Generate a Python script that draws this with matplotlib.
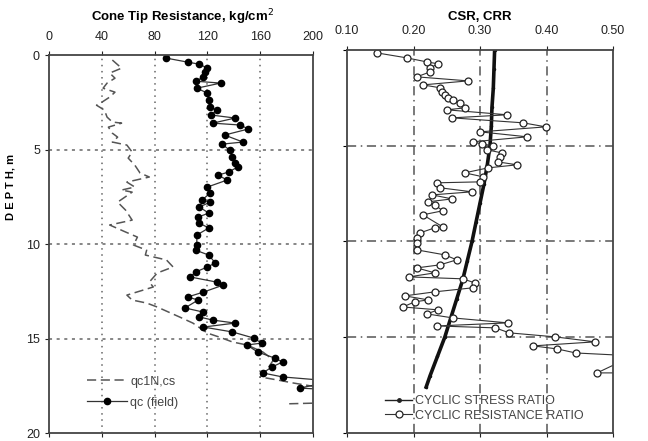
import matplotlib.pyplot as plt
from matplotlib.lines import Line2D

plt.rcParams['font.family'] = ['Liberation Sans', 'DejaVu Sans']

# qc (field) profile: depth (m), tip resistance (kg/cm2)
qc_depth = [0.16, 0.37, 0.48, 0.69, 0.90, 1.16, 1.38, 1.48, 1.75, 2.01, 2.38, 2.75,
            2.91, 3.17, 3.33, 3.60, 3.70, 3.91, 4.23, 4.60, 4.71, 5.03, 5.40, 5.71,
            5.92, 6.19, 6.35, 6.61, 6.98, 7.30, 7.67, 7.78, 8.04, 8.36, 8.57, 8.89,
            9.15, 9.52, 10.05, 10.32, 10.58, 11.00, 11.21, 11.48, 11.74, 12.01, 12.17,
            12.54, 12.80, 12.96, 13.38, 13.60, 13.86, 14.02, 14.18, 14.39, 14.65,
            14.97, 15.24, 15.34, 15.71, 16.03, 16.24, 16.50, 16.82, 17.03, 17.25,
            17.62, 17.75]
qc_field = [89, 105, 114, 120, 118, 117, 111, 130, 112, 120, 121, 122,
            127, 123, 141, 124, 145, 151, 133, 147, 131, 137, 139, 141,
            143, 136, 128, 135, 120, 122, 116, 122, 114, 121, 113, 114,
            121, 112, 112, 111, 121, 126, 120, 111, 107, 127, 132,
            117, 105, 113, 103, 117, 114, 124, 141, 117, 139,
            155, 161, 150, 158, 171, 177, 169, 162, 177, 215,
            190, 225]

# qc1N,cs profile
q1_depth = [0.26, 0.69, 0.95, 1.22, 1.48, 1.75, 1.96, 2.22, 2.54, 2.65, 2.91, 3.28,
            3.54, 3.60, 3.81, 4.13, 4.34, 4.60, 4.76, 5.13, 5.45, 5.82, 6.24, 6.45,
            6.72, 6.98, 7.14, 7.25, 7.78, 8.20, 8.73, 8.99, 9.36, 9.63, 10.05, 10.32,
            10.58, 10.84, 11.21, 11.53, 12.01, 12.27, 12.70, 12.96, 13.12, 13.33,
            13.86, 14.18, 14.71, 14.92, 15.18, 15.34, 15.71, 16.13, 16.66, 17.03,
            17.19, 17.35, 17.56]
q1_value = [48, 55, 46, 50, 44, 41, 50, 46, 39, 36, 42, 44,
            48, 55, 45, 48, 52, 48, 59, 63, 60, 65, 69, 76,
            59, 65, 55, 63, 52, 58, 63, 46, 58, 67, 64, 74,
            73, 89, 94, 82, 76, 79, 59, 63, 74, 82,
            99, 109, 120, 129, 139, 150, 162, 170, 165, 160,
            173, 185, 203]
q1_tail_depth = [18.45, 18.40]
q1_tail_value = [182, 210]

# cyclic resistance ratio
crr_depth = [0.16, 0.42, 0.63, 0.73, 0.94, 1.15, 1.41, 1.62, 1.83, 1.98, 2.19, 2.35,
             2.51, 2.61, 2.77, 3.03, 3.13, 3.39, 3.55, 3.81, 4.02, 4.28, 4.54, 4.80,
             4.91, 5.01, 5.22, 5.38, 5.59, 5.85, 6.00, 6.16, 6.42, 6.63, 6.89, 6.94,
             7.20, 7.41, 7.57, 7.78, 7.93, 8.09, 8.40, 8.61, 9.24, 9.29, 9.55, 9.81,
             10.07, 10.44, 10.70, 10.96, 11.22, 11.38, 11.64, 11.85, 11.95, 12.16,
             12.42, 12.63, 12.84, 13.05, 13.15, 13.42, 13.57, 13.78, 13.99, 14.25,
             14.41, 14.51, 14.77, 14.98, 15.24, 15.45, 15.61, 15.82, 15.97, 16.86,
             16.86]
crr_value = [0.145, 0.190, 0.220, 0.237, 0.225, 0.225, 0.205, 0.282, 0.214, 0.240,
             0.243, 0.247, 0.252, 0.259, 0.270, 0.277, 0.250, 0.341, 0.258, 0.365,
             0.399, 0.300, 0.371, 0.289, 0.303, 0.320, 0.311, 0.333, 0.330, 0.327,
             0.356, 0.312, 0.277, 0.305, 0.300, 0.235, 0.240, 0.288, 0.228, 0.258,
             0.222, 0.232, 0.244, 0.214, 0.244, 0.232, 0.210, 0.205, 0.205, 0.205,
             0.247, 0.265, 0.240, 0.205, 0.232, 0.193, 0.274, 0.292, 0.289, 0.232,
             0.187, 0.222, 0.202, 0.184, 0.237, 0.220, 0.259, 0.342, 0.235, 0.323,
             0.344, 0.413, 0.473, 0.380, 0.416, 0.444, 0.530, 0.476, 0.530]

# cyclic stress ratio
csr_depth = [0.0, 1.0, 2.0, 3.0, 4.0, 5.0, 6.0, 7.0, 8.0, 9.0, 10.0, 11.0, 12.0,
             13.0, 14.0, 15.0, 16.0, 17.0, 17.6]
csr_value = [0.322, 0.321, 0.320, 0.318, 0.317, 0.315, 0.311, 0.306, 0.300, 0.294,
             0.288, 0.281, 0.274, 0.265, 0.256, 0.247, 0.236, 0.225, 0.219]

fig = plt.figure(figsize=(6.48, 4.41), dpi=100)
ax1 = fig.add_axes([0.0756, 0.018, 0.4074, 0.857])
ax2 = fig.add_axes([0.5355, 0.018, 0.4105, 0.869])

# left panel
ax1.plot(q1_value, q1_depth, color='#555555', lw=1.1, ls=(0, (6, 3)), label='qc1N,cs')
ax1.plot(q1_tail_value, q1_tail_depth, color='#555555', lw=1.1, ls=(0, (6, 3)))
ax1.plot(qc_field, qc_depth, color='#333333', lw=0.9, marker='o', ms=4.5,
         mfc='black', mec='black', label='qc (field)')
ax1.set_xlim(0, 200)
ax1.set_ylim(20, 0)
ax1.set_xticks([0, 40, 80, 120, 160, 200])
ax1.set_yticks([0, 5, 10, 15, 20])
ax1.xaxis.tick_top()
ax1.tick_params(axis='x', top=True, bottom=True, labelsize=9, colors='#222222',
                length=3, pad=6)
ax1.tick_params(axis='y', labelsize=9, colors='#222222', length=3)
for v in [40, 80, 120, 160]:
    ax1.axvline(v, color='#666666', lw=1.1, ls=(0, (1, 3)), zorder=0)
for d in [5, 10, 15]:
    ax1.axhline(d, color='#666666', lw=1.1, ls=(0, (2, 3)), zorder=0)
for s in ax1.spines.values():
    s.set_color('#444444')
    s.set_linewidth(1.3)
fig.text(0.281, 0.961, 'Cone Tip Resistance, kg/cm$^2$', fontsize=9.5,
         fontweight='bold', ha='center', va='center')
ax1.set_ylabel('D E P T H, m', fontsize=8, fontweight='bold')
ax1.yaxis.set_label_coords(-0.125, 0.65)
leg1 = ax1.legend(loc='lower left', bbox_to_anchor=(0.1, 0.035), frameon=False,
                  fontsize=9, handlelength=3.2, labelspacing=0.7, handletextpad=0.3)
for t in leg1.get_texts():
    t.set_color('#444444')

# right panel
ax2.plot(csr_value, csr_depth, color='#111111', lw=2.6, marker='.', ms=3)
ax2.plot(crr_value, crr_depth, color='#333333', lw=0.8, marker='o', ms=5,
         mfc='white', mec='#222222', mew=0.9)
ax2.set_xlim(0.10, 0.50)
ax2.set_ylim(20, 0)
ax2.set_xticks([0.10, 0.20, 0.30, 0.40, 0.50])
ax2.set_xticklabels(['0.10', '0.20', '0.30', '0.40', '0.50'])
ax2.set_yticks([0, 5, 10, 15, 20])
ax2.set_yticklabels([])
ax2.xaxis.tick_top()
ax2.tick_params(axis='x', top=True, bottom=True, labelsize=9, colors='#222222',
                length=3, pad=6)
ax2.tick_params(axis='y', length=3)
for v in [0.2, 0.3, 0.4]:
    ax2.axvline(v, color='#555555', lw=1.1, ls=(0, (6, 3, 1, 3)), zorder=0)
for d in [5, 10, 15]:
    ax2.axhline(d, color='#555555', lw=1.1, ls=(0, (6, 3, 1, 3)), zorder=0)
for s in ax2.spines.values():
    s.set_color('#444444')
    s.set_linewidth(1.3)
fig.text(0.741, 0.961, 'CSR, CRR', fontsize=9.5, fontweight='bold',
         ha='center', va='center')
handles = [Line2D([], [], color='#222222', lw=1, marker='.', ms=5),
           Line2D([], [], color='#333333', lw=0.8, marker='o', ms=5,
                  mfc='white', mec='#222222', mew=0.9)]
leg2 = ax2.legend(handles, ['CYCLIC STRESS RATIO', 'CYCLIC RESISTANCE RATIO'],
                  loc='lower left', bbox_to_anchor=(0.1, 0.0), frameon=False,
                  fontsize=9, handlelength=2.2, labelspacing=0.2, handletextpad=0.2)
for t in leg2.get_texts():
    t.set_color('#444444')

fig.savefig('out.png', dpi=100)
